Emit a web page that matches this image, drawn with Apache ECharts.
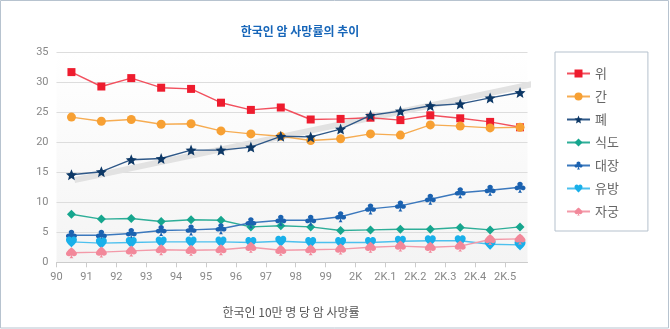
<!DOCTYPE html>
<html>
<head>
<meta charset="utf-8">
<script src="https://cdn.jsdelivr.net/npm/echarts@6/dist/echarts.min.js"></script>
<style>
  html, body { margin: 0; padding: 0; background: #fff; }
  #chart { width: 670px; height: 329px; }
</style>
</head>
<body>
<div id="chart"></div>
<script>
// Year labels (one per category band, label sits on the band's left edge)
const years = ['90', '91', '92', '93', '94', '95', '96', '97', '98', '99',
               '2K', '2K.1', '2K.2', '2K.3', '2K.4', '2K.5'];

// Deaths per 100,000 by cancer site
const stomach    = [31.7, 29.3, 30.7, 29.1, 28.9, 26.6, 25.4, 25.8, 23.8, 23.9, 24.1, 23.7, 24.5, 24.0, 23.4, 22.5];
const liver      = [24.2, 23.5, 23.8, 23.0, 23.1, 21.9, 21.4, 21.0, 20.3, 20.6, 21.4, 21.2, 22.9, 22.7, 22.4, 22.5];
const lung       = [14.6, 15.1, 17.1, 17.3, 18.7, 18.7, 19.2, 21.0, 20.9, 22.2, 24.5, 25.2, 26.1, 26.4, 27.4, 28.3];
const esophagus  = [8.0, 7.2, 7.3, 6.8, 7.1, 7.0, 5.9, 6.1, 5.9, 5.3, 5.4, 5.5, 5.5, 5.8, 5.4, 5.9];
const colorectal = [4.5, 4.5, 4.8, 5.3, 5.4, 5.6, 6.6, 7.0, 7.0, 7.6, 8.9, 9.4, 10.5, 11.6, 12.0, 12.5];
const breast     = [3.4, 3.2, 3.3, 3.4, 3.4, 3.4, 3.3, 3.5, 3.3, 3.3, 3.3, 3.5, 3.6, 3.6, 3.0, 2.9];
const cervix     = [1.6, 1.7, 1.9, 2.1, 2.0, 2.1, 2.5, 2.0, 2.1, 2.2, 2.5, 2.7, 2.5, 2.7, 3.8, 3.9];

// Lung cancer trend band (start / end on the year scale)
const trendX = [0.6, 16.0];
const trendY = [13.7, 29.8];

const names = ['위', '간', '폐', '식도', '대장', '유방', '자궁'];

const STAR  = 'path://M12,1.5 L14.9,8.6 L22.5,9.2 L16.7,14.1 L18.5,21.5 L12,17.5 L5.5,21.5 L7.3,14.1 L1.5,9.2 L9.1,8.6 Z';
const CLUB  = 'path://M12,2 C9.8,2 8,3.8 8,6 C8,7.1 8.4,8 9.1,8.7 C8.7,8.6 8.4,8.5 8,8.5 C5.8,8.5 4,10.3 4,12.5 C4,14.7 5.8,16.5 8,16.5 C9.5,16.5 10.7,15.7 11.4,14.5 C11.3,16.8 10.5,19.2 9,21 L15,21 C13.5,19.2 12.7,16.8 12.6,14.5 C13.3,15.7 14.5,16.5 16,16.5 C18.2,16.5 20,14.7 20,12.5 C20,10.3 18.2,8.5 16,8.5 C15.6,8.5 15.3,8.6 14.9,8.7 C15.6,8 16,7.1 16,6 C16,3.8 14.2,2 12,2 Z';
const HEART = 'path://M12,21.35 L10.55,20.03 C5.4,15.36 2,12.28 2,8.5 C2,5.42 4.42,3 7.5,3 C9.24,3 10.91,3.81 12,5.09 C13.09,3.81 14.76,3 16.5,3 C19.58,3 22,5.42 22,8.5 C22,12.28 18.6,15.36 13.45,20.04 Z';
const SPADE = 'path://M12,2 C12,2 4,9 4,13.5 C4,15.9 5.9,17.8 8.2,17.8 C9.6,17.8 10.8,17.1 11.5,16 C11.3,18 10.5,19.8 9,21 L15,21 C13.5,19.8 12.7,18 12.5,16 C13.2,17.1 14.4,17.8 15.8,17.8 C18.1,17.8 20,15.9 20,13.5 C20,9 12,2 12,2 Z';

const styles = [
  { values: stomach,    color: '#ee1c2e', line: '#f2505e', symbol: 'rect',    size: 8 },
  { values: liver,      color: '#f7a033', line: '#f6ac52', symbol: 'circle',  size: 9 },
  { values: lung,       color: '#0d3866', line: '#2f5888', symbol: STAR,      size: 11 },
  { values: esophagus,  color: '#16a68e', line: '#2eae98', symbol: 'diamond', size: 9 },
  { values: colorectal, color: '#1b62b0', line: '#3b78bd', symbol: CLUB,      size: 11 },
  { values: breast,     color: '#19b0ea', line: '#4cc0ee', symbol: HEART,     size: 11 },
  { values: cervix,     color: '#f2889a', line: '#f39aa9', symbol: SPADE,     size: 11 }
];

const KR = '"Noto Sans CJK KR", "Noto Sans", sans-serif';
const tickValues = years.map((_, i) => i);

const lineSeries = styles.map((s, k) => ({
  name: names[k],
  type: 'line',
  data: s.values.map((v, i) => [i + 0.5, v]),
  symbol: s.symbol,
  symbolSize: s.size,
  itemStyle: { color: s.color },
  lineStyle: { color: s.line, width: 1.4 },
  z: 3 + k
}));

const chart = echarts.init(document.getElementById('chart'), null, { renderer: 'canvas' });

chart.setOption({
  animation: false,
  backgroundColor: '#ffffff',
  graphic: [
    {
      type: 'rect', silent: true, z: -1,
      shape: { x: 0.5, y: 0.5, width: 668, height: 327.5 },
      style: { fill: 'none', stroke: '#b7c3cf', lineWidth: 1 }
    },
    {
      type: 'text', silent: true,
      style: {
        text: '한국인 암 사망률의 추이', x: 300, y: 31,
        textAlign: 'center', textVerticalAlign: 'middle',
        fill: '#1766b9', font: 'bold 12px ' + KR
      }
    },
    {
      type: 'text', silent: true,
      style: {
        text: '한국인 10만 명 당 암 사망률', x: 291, y: 312,
        textAlign: 'center', textVerticalAlign: 'middle',
        fill: '#555', font: '12px ' + KR
      }
    }
  ],
  legend: {
    data: names,
    orient: 'vertical',
    left: 555,
    top: 52,
    itemWidth: 23,
    itemHeight: 10,
    itemGap: 10,
    padding: [15, 29, 13, 11],
    borderColor: '#b5c1cd',
    borderWidth: 1,
    textStyle: { color: '#666', fontSize: 13, fontFamily: KR }
  },
  grid: {
    left: 56.5,
    right: 142.5,
    top: 52.3,
    bottom: 66.7,
    show: true,
    borderWidth: 0,
    backgroundColor: new echarts.graphic.LinearGradient(0, 0, 0, 1, [
      { offset: 0, color: '#ffffff' },
      { offset: 1, color: '#f4f4f4' }
    ])
  },
  xAxis: {
    type: 'value',
    min: 0,
    max: 15.75,
    interval: 1,
    axisLine: { lineStyle: { color: '#cccccc' } },
    axisTick: { show: true, length: 5, lineStyle: { color: '#cccccc' }, customValues: tickValues },
    axisLabel: {
      customValues: tickValues,
      formatter: v => years[Math.round(v)] || '',
      color: '#888', fontSize: 11, fontFamily: 'Roboto, sans-serif', margin: 9
    },
    splitLine: { show: false }
  },
  yAxis: {
    type: 'value',
    min: 0,
    max: 35,
    interval: 5,
    axisLine: { show: false },
    axisTick: { show: false },
    axisLabel: { color: '#888', fontSize: 11, fontFamily: 'Roboto, sans-serif', margin: 8 },
    splitLine: { lineStyle: { color: '#dddddd' } }
  },
  series: [
    {
      name: 'trend',
      type: 'line',
      data: trendX.map((x, i) => [x, trendY[i]]),
      symbol: 'none',
      clip: false,
      silent: true,
      lineStyle: { color: '#e2e2e2', width: 6, cap: 'butt' },
      z: 1
    }
  ].concat(lineSeries)
});
</script>
</body>
</html>
